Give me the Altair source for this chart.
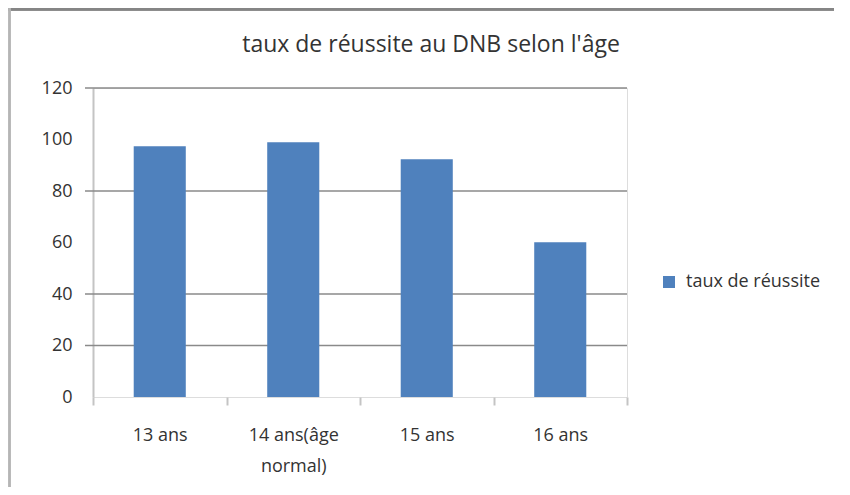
import altair as alt
import pandas as pd

categories = ["13 ans", "14 ans(âge normal)", "15 ans", "16 ans"]
values = [97.4, 98.9, 92.3, 60.1]
series_name = "taux de réussite"
y_ticks = [0, 20, 40, 60, 80, 100, 120]
grid_values = [20, 40, 80, 120]

df = pd.DataFrame({"cat": categories, "val": values, "serie": [series_name] * len(categories)})
grid_df = pd.DataFrame({"g": grid_values})

W, H = 534, 309
FONT = "Open Sans"
TXT = "#333333"

y_scale = alt.Scale(domain=[0, 120], nice=False)
y_axis = alt.Axis(
    title=None, values=y_ticks, grid=False, ticks=False,
    domainColor="#c4c4c4", domainWidth=2, labelFontSize=18, labelFont=FONT,
    labelColor=TXT, labelPadding=21,
)

grid = alt.Chart(grid_df).mark_rule(color="#8a8a8a", strokeWidth=1.5).encode(
    y=alt.Y("g:Q", scale=y_scale, axis=y_axis),
    x=alt.value(-8),
    x2=alt.value(W),
)

bars = alt.Chart(df).mark_bar(width=alt.RelativeBandSize(0.39)).encode(
    x=alt.X(
        "cat:N",
        sort=categories,
        scale=alt.Scale(paddingInner=0, paddingOuter=0),
        axis=alt.Axis(
            title=None, domain=False, tickBand="extent", tickSize=8,
            tickColor="#c4c4c4", tickWidth=2, labelAngle=0, labelFontSize=18,
            labelFont=FONT, labelColor=TXT, labelPadding=21, labelLineHeight=31,
            labelExpr="datum.label == '14 ans(âge normal)' ? ['14 ans(âge', 'normal)'] : datum.label",
        ),
    ),
    y=alt.Y("val:Q", scale=y_scale, axis=y_axis),
    color=alt.Color(
        "serie:N",
        scale=alt.Scale(range=["#4F81BD"]),
        legend=alt.Legend(
            title=None, orient="none", legendX=567, legendY=185, symbolType="square",
            symbolSize=144, symbolStrokeWidth=0, labelFontSize=18, labelFont=FONT,
            labelColor=TXT, labelOffset=8, padding=0,
        ),
    ),
)

frame_top = alt.Chart(grid_df).mark_rule(color="#858585", strokeWidth=3).encode(
    x=alt.value(-85), x2=alt.value(W + 207), y=alt.value(-79)
)
frame_left = alt.Chart(grid_df).mark_rule(color="#b5b5b5", strokeWidth=2).encode(
    x=alt.value(-83.5), y=alt.value(-80), y2=alt.value(H + 90)
)

chart = alt.layer(grid, bars, frame_top, frame_left).properties(
    width=W,
    height=H,
    padding={"left": 85, "top": 80, "right": 207, "bottom": 90},
    autosize=alt.AutoSizeParams(type="none"),
    title=alt.TitleParams(
        "taux de réussite au DNB selon l'âge", font=FONT, fontSize=23,
        fontWeight="normal", color=TXT, anchor="middle", frame="group",
        baseline="alphabetic", dx=71, offset=-68,
    ),
).configure_view(stroke=None).configure(background="white")

chart.save("out.html", embed_options={"renderer": "svg", "actions": False})
